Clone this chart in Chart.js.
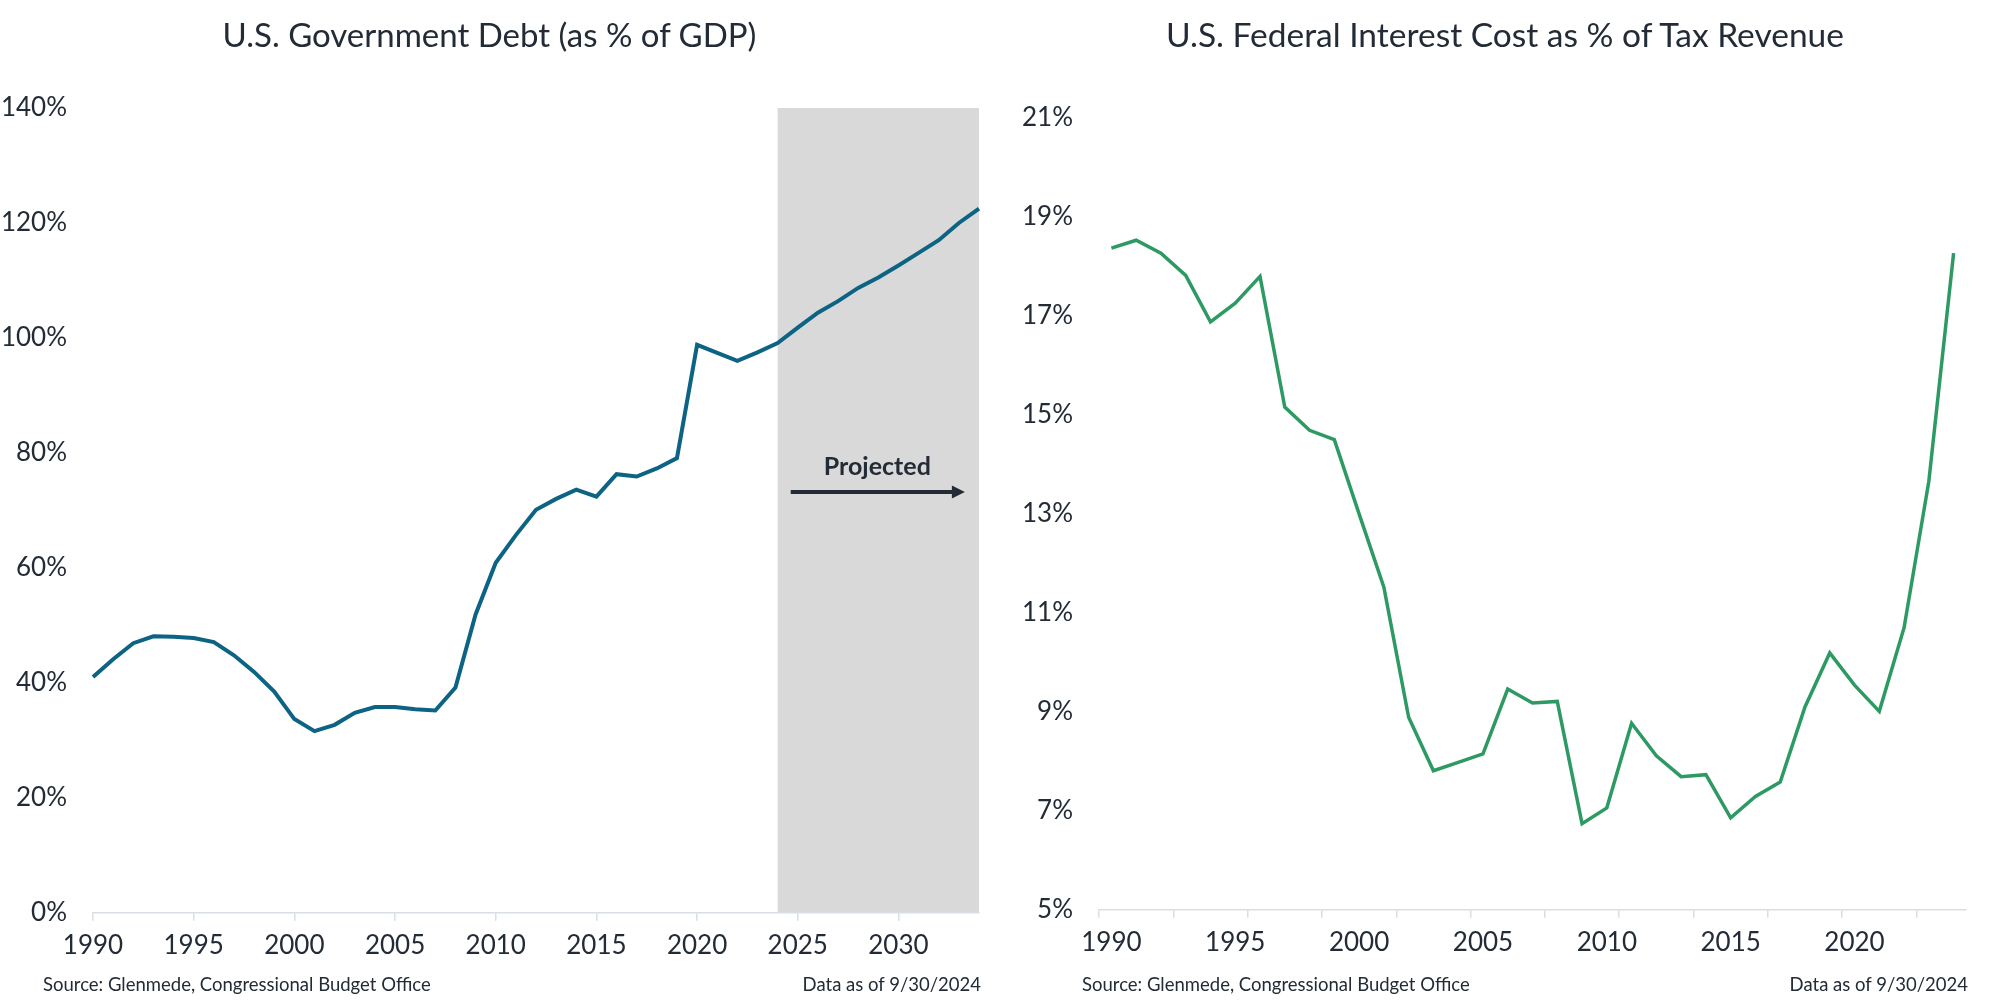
<!DOCTYPE html>
<html>
<head>
<meta charset="utf-8">
<title>U.S. Debt and Interest Cost</title>
<script src="https://cdn.jsdelivr.net/npm/chart.js@4.4.1/dist/chart.umd.min.js"></script>
<style>
    body { margin: 0; background: #fff; width: 2000px; height: 1007px; position: relative; overflow: hidden; font-family: Lato, sans-serif; color: #222b36; }
    .panel { position: absolute; top: 0; height: 1007px; }
    .title { position: absolute; top: 14px; line-height: 40px; text-align: center; white-space: nowrap; }
    .note { position: absolute; top: 973px; font-size: 18.5px; line-height: 22px; white-space: nowrap; }
</style>
</head>
<body>
<div class="panel" style="left:0; width:985px;"><canvas id="debtChart"></canvas></div>
<div class="panel" style="left:1010px; width:990px;"><canvas id="interestChart"></canvas></div>
<div class="title" style="left:0; width:979px; font-size:33px;">U.S. Government Debt (as % of GDP)</div>
<div class="title" style="left:1044px; width:922px; font-size:33.5px;">U.S. Federal Interest Cost as % of Tax Revenue</div>
<div class="note" style="left:43px;">Source: Glenmede, Congressional Budget Office</div>
<div class="note" style="right:1019px;">Data as of 9/30/2024</div>
<div class="note" style="left:1082px;">Source: Glenmede, Congressional Budget Office</div>
<div class="note" style="right:32px;">Data as of 9/30/2024</div>

<script>
// debt as % of GDP, actual through 2024 then CBO projection
const debtYears = ['1990','1991','1992','1993','1994','1995','1996','1997','1998','1999',
    '2000','2001','2002','2003','2004','2005','2006','2007','2008','2009',
    '2010','2011','2012','2013','2014','2015','2016','2017','2018','2019',
    '2020','2021','2022','2023','2024','2025','2026','2027','2028','2029',
    '2030','2031','2032','2033','2034'];
const debtPct = [41.0, 44.1, 46.9, 48.1, 48.0, 47.8, 47.1, 44.8, 41.9, 38.5,
    33.7, 31.6, 32.7, 34.8, 35.8, 35.8, 35.4, 35.2, 39.2, 51.9,
    60.9, 65.7, 70.1, 72.0, 73.6, 72.4, 76.3, 75.9, 77.3, 79.1,
    98.8, 97.4, 96.0, 97.5, 99.1, 101.8, 104.4, 106.4, 108.7, 110.5,
    112.6, 114.8, 117.0, 120.0, 122.5];
const projectionStart = '2024';

// federal interest cost as % of tax revenue
const interestYears = ['1990','1991','1992','1993','1994','1995','1996','1997','1998','1999',
    '2000','2001','2002','2003','2004','2005','2006','2007','2008','2009',
    '2010','2011','2012','2013','2014','2015','2016','2017','2018','2019',
    '2020','2021','2022','2023','2024'];
const interestPct = [18.37, 18.53, 18.27, 17.82, 16.88, 17.26, 17.80, 15.16, 14.69, 14.50,
    13.00, 11.52, 8.89, 7.81, 7.98, 8.15, 9.46, 9.18, 9.21, 6.74,
    7.06, 8.77, 8.11, 7.69, 7.73, 6.86, 7.29, 7.58, 9.10, 10.19,
    9.54, 9.01, 10.70, 13.66, 18.27];

const textColor = '#222b36';
const axisColor = '#d9dee5';
const font = 'Lato';

function xAxis(labels, offset, tickEvery) {
    return {
        type: 'category',
        offset: offset,
        afterFit: s => { s.paddingRight = 0; },
        grid: {
            offset: offset,
            drawOnChartArea: false,
            drawTicks: true,
            tickLength: 8,
            lineWidth: 1.5,
            color: ctx => ctx.index % tickEvery === 0 ? axisColor : 'rgba(0,0,0,0)'
        },
        border: { display: true, color: axisColor, width: 1.5 },
        ticks: {
            autoSkip: false,
            maxRotation: 0,
            minRotation: 0,
            padding: 9,
            color: textColor,
            font: { family: font, size: 26 },
            callback: function(value) {
                const yr = this.getLabelForValue(value);
                return Number(yr) % 5 === 0 ? yr : '';
            }
        }
    };
}

function yAxis(min, max, step, width) {
    return {
        min: min,
        max: max,
        grid: { display: false, drawTicks: false },
        border: { display: false },
        afterFit: s => { s.width = width; },
        ticks: {
            stepSize: step,
            padding: 26,
            color: textColor,
            font: { family: font, size: 26 },
            callback: v => v + '%'
        }
    };
}

// grey box over the projected years plus the "Projected" arrow
const projectionShade = {
    id: 'projectionShade',
    beforeDraw(chart) {
        const { ctx, chartArea, scales: { x } } = chart;
        const x0 = x.getPixelForValue(debtYears.indexOf(projectionStart));
        ctx.save();
        ctx.fillStyle = '#d9d9d9';
        ctx.fillRect(x0, chartArea.top, chartArea.right - x0, chartArea.bottom - chartArea.top);
        ctx.restore();
    },
    afterDatasetsDraw(chart) {
        const { ctx, scales: { x, y } } = chart;
        const tx = x.getPixelForValue(38.95);
        const ty = y.getPixelForValue(77.6);
        const ax0 = x.getPixelForValue(34.65);
        const ax1 = x.getPixelForValue(43.3);
        const ay = y.getPixelForValue(73.2);
        ctx.save();
        ctx.fillStyle = textColor;
        ctx.strokeStyle = textColor;
        ctx.font = 'bold 25px Lato';
        ctx.textAlign = 'center';
        ctx.textBaseline = 'middle';
        ctx.fillText('Projected', tx, ty);
        ctx.lineWidth = 4;
        ctx.beginPath();
        ctx.moveTo(ax0, ay);
        ctx.lineTo(ax1 - 10, ay);
        ctx.stroke();
        ctx.beginPath();
        ctx.moveTo(ax1, ay);
        ctx.lineTo(ax1 - 13, ay - 6.5);
        ctx.lineTo(ax1 - 13, ay + 6.5);
        ctx.closePath();
        ctx.fill();
        ctx.restore();
    }
};

new Chart(document.getElementById('debtChart'), {
    type: 'line',
    data: {
        labels: debtYears,
        datasets: [{
            data: debtPct,
            borderColor: '#0c6384',
            borderWidth: 4,
            pointRadius: 0,
            tension: 0
        }]
    },
    options: {
        responsive: true,
        maintainAspectRatio: false,
        animation: false,
        layout: { padding: { top: 108, right: 6, bottom: 37, left: 0 } },
        plugins: {
            legend: { display: false },
            tooltip: { enabled: false }
        },
        scales: {
            x: xAxis(debtYears, false, 5),
            y: yAxis(0, 140, 20, 93)
        }
    },
    plugins: [projectionShade]
});

new Chart(document.getElementById('interestChart'), {
    type: 'line',
    data: {
        labels: interestYears,
        datasets: [{
            data: interestPct,
            borderColor: '#2e9a63',
            borderWidth: 3.5,
            pointRadius: 0,
            tension: 0
        }]
    },
    options: {
        responsive: true,
        maintainAspectRatio: false,
        animation: false,
        layout: { padding: { top: 118, right: 34, bottom: 40, left: 0 } },
        plugins: {
            legend: { display: false },
            tooltip: { enabled: false }
        },
        scales: {
            x: xAxis(interestYears, true, 3),
            y: yAxis(5, 21, 2, 89)
        }
    }
});
</script>
</body>
</html>
